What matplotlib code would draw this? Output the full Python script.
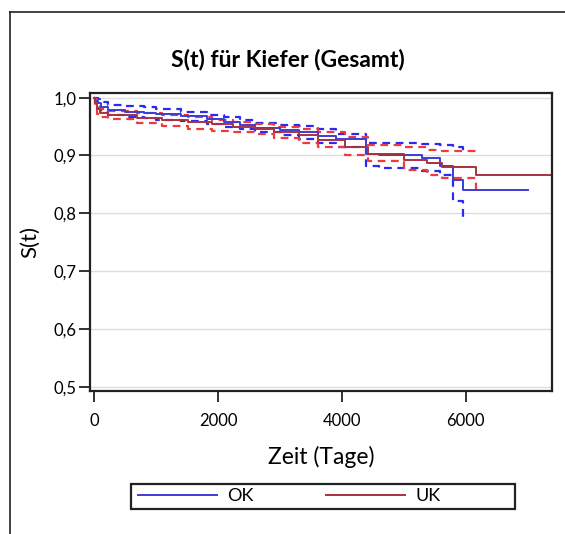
import matplotlib
matplotlib.use("Agg")
import matplotlib.pyplot as plt
from matplotlib.lines import Line2D
from matplotlib.patches import Rectangle
from matplotlib.ticker import FuncFormatter

plt.rcParams['font.family'] = ['Lato', 'DejaVu Sans']

# OK (Oberkiefer): Kaplan-Meier estimate with confidence band
ok_t = [0, 20, 60, 120, 226, 500, 800, 1000, 1400, 1820, 2100, 2350, 2600, 3000, 3300, 3620, 3900, 4390, 4600, 5285, 5580, 5800, 5960, 7000]
ok_s = [1.0, 0.995, 0.99, 0.984, 0.978, 0.976, 0.973, 0.972, 0.968, 0.963, 0.958, 0.953, 0.947, 0.944, 0.941, 0.933, 0.929, 0.903, 0.900, 0.895, 0.882, 0.857, 0.840, 0.840]
ok_up = [1.0, 1.0, 0.997, 0.993, 0.987, 0.985, 0.983, 0.981, 0.976, 0.970, 0.967, 0.962, 0.956, 0.953, 0.951, 0.945, 0.938, 0.922, 0.921, 0.920, 0.918, 0.915, 0.900, 0.900]
ok_lo = [1.0, 0.99, 0.982, 0.975, 0.970, 0.967, 0.964, 0.962, 0.959, 0.954, 0.950, 0.946, 0.940, 0.935, 0.929, 0.921, 0.914, 0.881, 0.878, 0.873, 0.866, 0.822, 0.788, 0.788]
ok_ci_end = 5960

# UK (Unterkiefer): Kaplan-Meier estimate with confidence band
uk_t = [0, 15, 40, 96, 226, 700, 1100, 1516, 1900, 2250, 2592, 2900, 3300, 3620, 4050, 4420, 5000, 5370, 5610, 6170, 7380]
uk_s = [1.0, 0.99, 0.98, 0.973, 0.970, 0.965, 0.962, 0.958, 0.954, 0.950, 0.946, 0.941, 0.936, 0.927, 0.915, 0.902, 0.893, 0.887, 0.880, 0.866, 0.866]
uk_up = [1.0, 0.998, 0.99, 0.981, 0.977, 0.973, 0.970, 0.966, 0.962, 0.958, 0.954, 0.950, 0.946, 0.941, 0.932, 0.918, 0.914, 0.910, 0.907, 0.904, 0.904]
uk_lo = [1.0, 0.982, 0.972, 0.966, 0.963, 0.956, 0.951, 0.946, 0.943, 0.940, 0.937, 0.930, 0.922, 0.915, 0.901, 0.890, 0.875, 0.867, 0.861, 0.840, 0.840]
uk_ci_end = 6170

title = "S(t) für Kiefer (Gesamt)"
xlabel = "Zeit (Tage)"
ylabel = "S(t)"
xticks = [0, 2000, 4000, 6000]
yticks = [0.5, 0.6, 0.7, 0.8, 0.9, 1.0]
labels = ["OK", "UK"]

blue = "#3c3cd6"
blue_d = "#2a2af2"
red = "#a8323e"
red_d = "#ee3a3a"

fig = plt.figure(figsize=(5.65, 5.34), dpi=100)
ax = fig.add_axes([90/565, 1 - 391/534, 462/565, 298/534])


def clip(t, v, end):
    tt = [x for x in t if x <= end]
    vv = v[:len(tt)]
    if tt[-1] < end:
        tt = tt + [end]
        vv = vv + [vv[-1]]
    return tt, vv


for t, up, lo, end, cd in [
    (ok_t, ok_up, ok_lo, ok_ci_end, blue_d),
    (uk_t, uk_up, uk_lo, uk_ci_end, red_d),
]:
    tu, vu = clip(t, up, end)
    tl, vl = clip(t, lo, end)
    ax.step(tu, vu, where='post', color=cd, lw=1.6, ls=(0, (3.5, 2.5)))
    ax.step(tl, vl, where='post', color=cd, lw=1.6, ls=(0, (3.5, 2.5)))

ax.step(ok_t, ok_s, where='post', color=blue, lw=1.4)
ax.step(uk_t, uk_s, where='post', color=red, lw=1.4)

ax.set_xlim(-65, 7390)
ax.set_ylim(0.493, 1.008)
ax.set_xticks(xticks)
ax.set_yticks(yticks)
ax.yaxis.set_major_formatter(FuncFormatter(lambda v, p: f"{v:.1f}".replace('.', ',')))
ax.tick_params(axis='both', labelsize=12, length=8, width=1.3, color='#222222', direction='out')
ax.tick_params(axis='y', pad=2)
ax.tick_params(axis='x', pad=8)
ax.grid(axis='y', color='#dddddd', lw=1)
ax.set_axisbelow(True)
for sp in ax.spines.values():
    sp.set_linewidth(1.6)
    sp.set_color('#222222')

ax.set_xlabel(xlabel, fontsize=16.5, labelpad=12)
ax.set_ylabel(ylabel, fontsize=16, labelpad=9)
fig.text(288/565, 1 - 60/534, title, ha='center', va='center', fontsize=16.5, fontweight='bold')

handles = [Line2D([], [], color=blue, lw=1.4), Line2D([], [], color=red, lw=1.4)]
leg = fig.legend(handles, labels, loc='center left', ncol=2,
                 bbox_to_anchor=(138/565, 1 - 496/534),
                 fontsize=13, handlelength=4.4, handletextpad=0.55, columnspacing=4.0,
                 frameon=False, borderpad=0, borderaxespad=0)
fig.add_artist(Rectangle((131/565, 1 - 509/534), 384/565, 25/534, transform=fig.transFigure,
                         fill=False, edgecolor='#222222', lw=1.6))

# outer frame
fig.add_artist(Line2D([10/565, 1.0], [1 - 12/534, 1 - 12/534], color='#222222', lw=1.2, transform=fig.transFigure))
fig.add_artist(Line2D([10/565, 10/565], [0, 1 - 12/534], color='#222222', lw=1.2, transform=fig.transFigure))

fig.savefig("out.png", dpi=100)
